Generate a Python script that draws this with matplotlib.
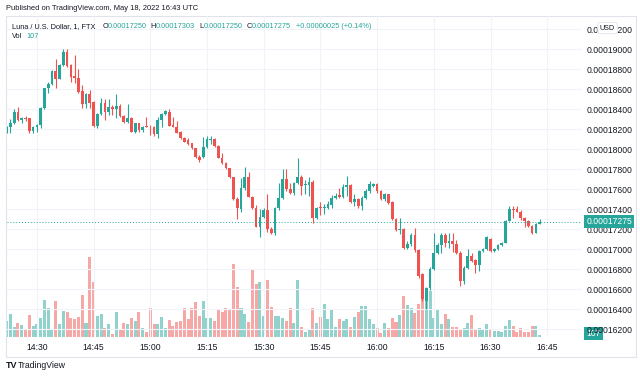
import matplotlib
matplotlib.use("Agg")
import matplotlib.pyplot as plt
from matplotlib.patches import Rectangle
import numpy as np
import pandas as pd

# ---- TradingView palette ----
_UP = "#26a69a"
_DOWN = "#ef5350"
_TEXT = "#131722"
_GRID = "#f0f3fa"
_FRAME = "#e0e3eb"

plt.rcParams["font.family"] = ["Liberation Sans", "DejaVu Sans"]

# 1-minute candles, Luna / USD on FTX, from 14:22 UTC (prices in 1e-8 USD)
opens = [18180, 18220, 18260, 18377, 18290, 18317, 18310, 18183, 18220, 18243,
         18410, 18610, 18653, 18783, 18700, 18843, 18976, 18843, 18733, 18710,
         18586, 18453, 18553, 18476, 18233, 18353, 18466, 18376, 18426, 18400,
         18433, 18336, 18276, 18310, 18176, 18260, 18193, 18233, 18226, 18220,
         18150, 18293, 18353, 18376, 18243, 18226, 18173, 18116, 18093, 18060,
         18010, 17926, 17920, 18020, 18093, 18100, 18033, 17916, 17860, 17810,
         17720, 17503, 17400, 17616, 17720, 17526, 17410, 17226, 17320, 17393,
         17200, 17160, 17410, 17510, 17700, 17600, 17566, 17660, 17720, 17640,
         17640, 17673, 17310, 17423, 17410, 17416, 17443, 17510, 17540, 17523,
         17626, 17640, 17473, 17506, 17433, 17516, 17580, 17636, 17656, 17583,
         17500, 17550, 17476, 17300, 17190, 17200, 17016, 17050, 17143, 16990,
         16750, 16483, 16610, 16800, 16966, 17043, 17143, 17066, 17083, 17050,
         16966, 16683, 16810, 16933, 16890, 16840, 16983, 17000, 17100, 16983,
         17000, 17040, 17066, 17283, 17400, 17400, 17373, 17310, 17283, 17233,
         17166, 17250]
highs = [18235, 18300, 18400, 18426, 18326, 18333, 18316, 18233, 18253, 18426,
         18616, 18670, 18793, 18900, 18853, 19000, 19000, 18853, 18943, 18800,
         18643, 18560, 18593, 18483, 18360, 18510, 18500, 18500, 18443, 18553,
         18453, 18343, 18453, 18326, 18266, 18266, 18236, 18320, 18243, 18233,
         18320, 18366, 18393, 18403, 18326, 18283, 18183, 18126, 18110, 18066,
         18016, 17943, 18126, 18133, 18133, 18110, 18043, 17966, 17870, 17816,
         17726, 17526, 17710, 17826, 17776, 17533, 17443, 17400, 17410, 17553,
         17226, 17420, 17666, 17800, 17800, 17666, 17676, 17910, 17743, 17690,
         17723, 17690, 17423, 17476, 17456, 17483, 17543, 17566, 17616, 17650,
         17733, 17650, 17550, 17516, 17533, 17600, 17683, 17666, 17666, 17590,
         17566, 17556, 17483, 17310, 17316, 17216, 17083, 17166, 17216, 17000,
         16760, 16620, 16820, 17166, 17060, 17166, 17166, 17166, 17166, 17090,
         16980, 16830, 17000, 16960, 16900, 16990, 17010, 17130, 17110, 17010,
         17050, 17070, 17290, 17433, 17433, 17430, 17390, 17320, 17290, 17240,
         17260, 17303]
lows = [18165, 18160, 18250, 18286, 18266, 18283, 18166, 18160, 18176, 18210,
        18403, 18560, 18643, 18610, 18700, 18833, 18826, 18670, 18666, 18560,
        18410, 18410, 18410, 18220, 18210, 18343, 18293, 18343, 18343, 18310,
        18326, 18266, 18266, 18170, 18166, 18170, 18176, 18220, 18143, 18133,
        18116, 18226, 18343, 18233, 18220, 18160, 18100, 18070, 18043, 18000,
        17910, 17870, 17910, 18010, 18053, 18026, 17910, 17853, 17800, 17710,
        17493, 17300, 17376, 17593, 17520, 17400, 17220, 17120, 17310, 17176,
        17153, 17143, 17393, 17500, 17586, 17553, 17543, 17650, 17543, 17550,
        17533, 17260, 17300, 17343, 17356, 17400, 17416, 17500, 17516, 17510,
        17533, 17460, 17433, 17416, 17390, 17500, 17566, 17623, 17566, 17490,
        17483, 17456, 17290, 17183, 17150, 17006, 17000, 17033, 16976, 16716,
        16480, 16400, 16590, 16790, 16950, 16960, 17020, 17016, 16976, 16950,
        16633, 16650, 16800, 16870, 16766, 16780, 16975, 16990, 16970, 16970,
        16990, 17030, 17060, 17280, 17316, 17370, 17290, 17220, 17220, 17150,
        17160, 17250]
closes = [18220, 18260, 18377, 18293, 18317, 18306, 18183, 18220, 18243, 18410,
          18610, 18653, 18783, 18700, 18843, 18976, 18836, 18726, 18710, 18576,
          18453, 18553, 18466, 18233, 18353, 18466, 18376, 18420, 18403, 18433,
          18336, 18276, 18310, 18176, 18260, 18193, 18226, 18226, 18220, 18150,
          18293, 18353, 18380, 18236, 18226, 18160, 18110, 18076, 18053, 18010,
          17926, 17893, 18020, 18100, 18100, 18033, 17916, 17860, 17810, 17720,
          17503, 17410, 17616, 17720, 17526, 17410, 17226, 17320, 17393, 17200,
          17160, 17410, 17510, 17700, 17600, 17566, 17660, 17720, 17633, 17656,
          17673, 17310, 17416, 17410, 17423, 17450, 17510, 17533, 17523, 17623,
          17640, 17473, 17506, 17433, 17516, 17580, 17648, 17656, 17583, 17500,
          17550, 17466, 17300, 17190, 17200, 17016, 17056, 17140, 16990, 16733,
          16500, 16610, 16800, 16966, 17043, 17143, 17066, 17083, 17050, 16966,
          16683, 16810, 16933, 16883, 16840, 16983, 17000, 17123, 16983, 17000,
          17040, 17066, 17283, 17400, 17390, 17376, 17310, 17283, 17233, 17166,
          17250, 17275]
volumes = [1120, 1585, 700, 1000, 840, 583, 1540, 770, 885, 1305,
           2565, 2050, 466, 2520, 885, 1820, 1750, 1350, 1280, 1400,
           2915, 1000, 5600, 3870, 1470, 1630, 650, 885, 186, 1750,
           490, 1000, 930, 1305, 1120, 1750, 606, 373, 2050, 930,
           885, 1400, 650, 1165, 745, 1050, 1120, 2050, 1280, 2050,
           2470, 1445, 2520, 1305, 1305, 1120, 1890, 1750, 2000, 1935,
           5080, 3500, 2000, 1630, 1050, 4700, 3680, 3870, 1470, 4000,
           2100, 1470, 1470, 1350, 1120, 2000, 1000, 3960, 700, 373,
           536, 2050, 1000, 1420, 2330, 1235, 1865, 700, 1235, 1120,
           1235, 700, 1400, 1770, 2170, 2170, 1235, 885, 606, 303,
           1000, 650, 1350, 1050, 1540, 2865, 2240, 2000, 1700, 2330,
           2865, 3215, 3215, 1305, 1865, 885, 1630, 1235, 700, 700,
           536, 650, 1000, 1540, 536, 606, 466, 885, 466, 420,
           420, 373, 770, 1165, 770, 373, 606, 350, 373, 770,
           770, 107]

price_ticks = [16200, 16400, 16600, 16800, 17000, 17200, 17400, 17600,
               17800, 18000, 18200, 18400, 18600, 18800, 19000, 19200]

SCALE = 1e-8
o = np.array(opens) * SCALE
h = np.array(highs) * SCALE
l = np.array(lows) * SCALE
c = np.array(closes) * SCALE
v = np.array(volumes)
times = pd.date_range("2022-05-18 14:22", periods=len(o), freq="min")
x = np.arange(len(o))
up = c >= o
colors = np.where(up, _UP, _DOWN)

W, H = 640, 376


def fx(px):
    return px / W


def fy(py):
    return 1 - py / H


fig = plt.figure(figsize=(W / 100, H / 100), dpi=100)
rect = [fx(7), fy(337), fx(582) - fx(7), fy(16) - fy(337)]

# volume pane (behind)
ax_v = fig.add_axes(rect, zorder=1)
ax_v.bar(x, v, width=0.8, color=colors, alpha=0.5, linewidth=0)
ax_v.set_ylim(0, v.max() * 4.0)
ax_v.axis("off")

# price pane (on top)
ax = fig.add_axes(rect, zorder=2)
ax.patch.set_visible(False)
ax.vlines(x, l, h, colors=colors, linewidth=0.8)
body_lo = np.minimum(o, c)
body_hi = np.maximum(o, c)
body_h = np.maximum(body_hi - body_lo, 0.6e-8)
ax.bar(x, body_h, bottom=body_lo, width=0.72, color=colors, linewidth=0)

ax.set_xlim(0.1, 152.2)
ax_v.set_xlim(0.1, 152.2)
ax.set_ylim(16123e-8, 19333e-8)

ax.set_yticks(np.array(price_ticks) * SCALE)
ax.set_yticklabels([f"{p * SCALE:.8f}" for p in price_ticks])
ax.yaxis.tick_right()
quarter = [i for i, t in enumerate(times) if t.minute % 15 == 0] + [143]
ax.set_xticks(quarter)
ax.set_xticklabels([f"{14 + (22 + i) // 60}:{(22 + i) % 60:02d}" for i in quarter])
ax.tick_params(axis="both", length=0, labelsize=6.2, colors=_TEXT)
ax.tick_params(axis="y", pad=3)
ax.tick_params(axis="x", pad=4)
ax.grid(True, color=_GRID, linewidth=0.8)
ax.set_axisbelow(True)
for s in ax.spines.values():
    s.set_visible(False)

# last price line + labels
last = c[-1]
ax.axhline(last, color=_UP, linestyle=(0, (1, 2)), linewidth=0.7)
ax.annotate(f"{last:.8f}", xy=(1.0, last), xycoords=("axes fraction", "data"),
            xytext=(3, 0), textcoords="offset points", va="center", ha="left",
            fontsize=6.2, color="white",
            bbox=dict(boxstyle="square,pad=0.25", fc=_UP, ec="none"))
ax_v.annotate(f"{v[-1]}", xy=(1.0, v[-1]), xycoords=("axes fraction", "data"),
              xytext=(3, 1.5), textcoords="offset points", va="center", ha="left",
              fontsize=6.2, color="white",
              bbox=dict(boxstyle="square,pad=0.25", fc=_UP, ec="none"))

# frame
fig.patches.append(Rectangle((fx(6), fy(357)), fx(636) - fx(6), fy(16) - fy(357),
                             transform=fig.transFigure, fill=False,
                             ec=_FRAME, lw=0.8))

# header / legend
fig.text(fx(6), fy(8), "Published on TradingView.com, May 18, 2022 16:43 UTC",
         fontsize=5.4, color=_TEXT, va="center")
ly = fy(27)
fs = 5.3
fig.text(fx(11.5), ly, "Luna / U.S. Dollar, 1, FTX", fontsize=fs, color=_TEXT, va="center")
for lab, val, px in [("O", "0.00017250", 102.5), ("H", "0.00017303", 150.5),
                     ("L", "0.00017250", 199), ("C", "0.00017275", 246.5)]:
    fig.text(fx(px), ly, lab, fontsize=fs, color=_TEXT, va="center")
    fig.text(fx(px + 5), ly, val, fontsize=fs, color=_UP, va="center")
fig.text(fx(296), ly, "+0.00000025 (+0.14%)", fontsize=fs, color=_UP, va="center")
fig.text(fx(11.5), fy(37), "Vol", fontsize=fs, color=_TEXT, va="center")
fig.text(fx(26.5), fy(37), "107", fontsize=fs, color=_UP, va="center")
fig.text(fx(600), fy(28), "USD", fontsize=5.2, color=_TEXT, va="center",
         bbox=dict(boxstyle="round,pad=0.3", fc="white", ec=_FRAME, lw=0.6), zorder=5)

# footer logo
fig.text(fx(6), fy(365), "TV", fontsize=6.5, fontweight="bold", color=_TEXT, va="center")
fig.text(fx(18), fy(365), "TradingView", fontsize=6.2, color=_TEXT, va="center")

fig.savefig("out.png", dpi=100)
